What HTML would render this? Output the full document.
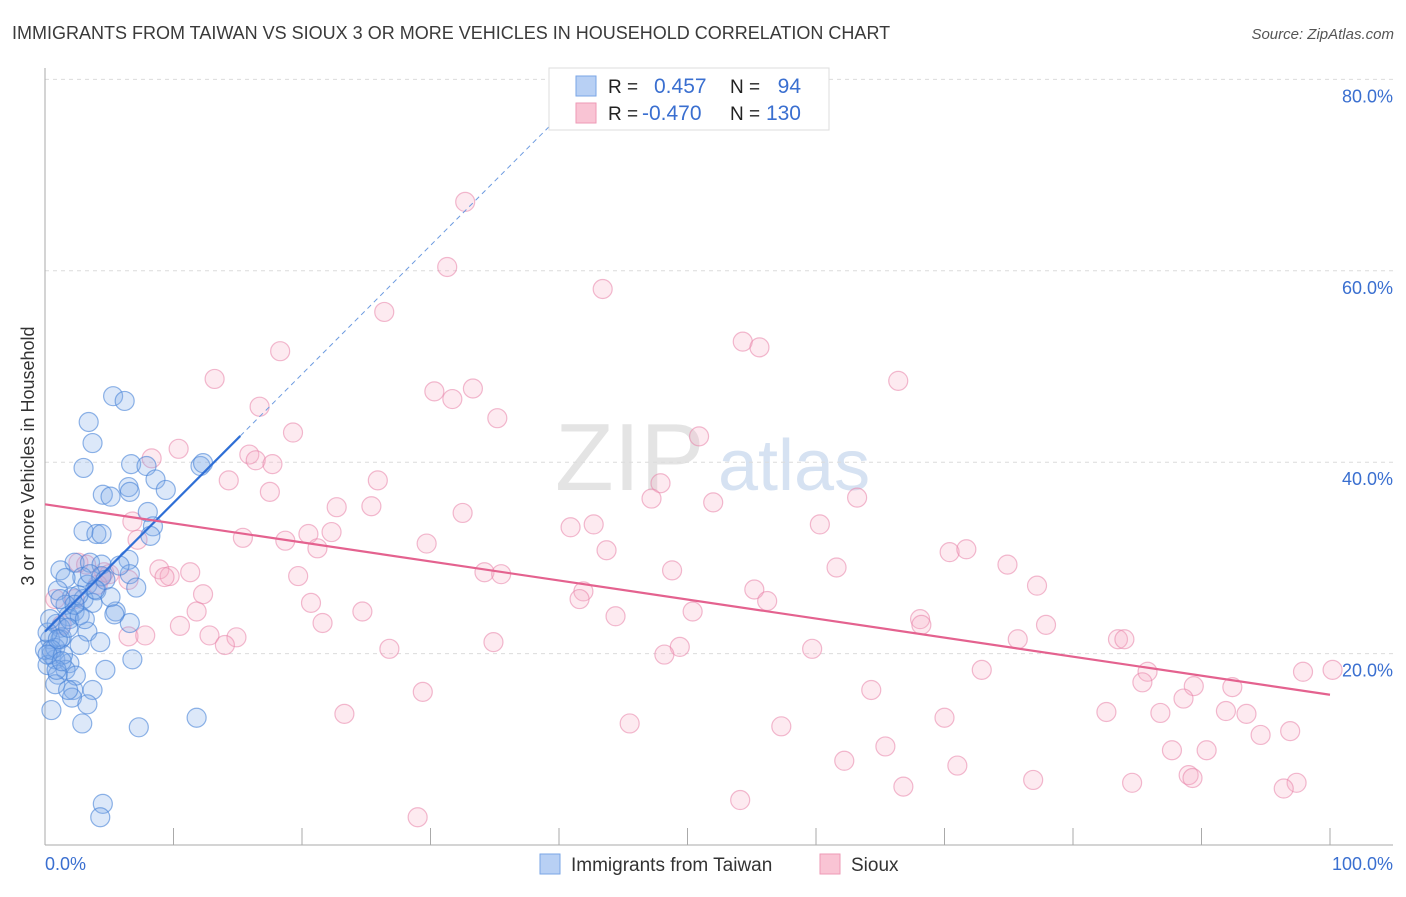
<!DOCTYPE html>
<html><head><meta charset="utf-8"><style>
body{margin:0;background:#fff;font-family:"Liberation Sans",sans-serif;}
svg text{font-family:"Liberation Sans",sans-serif;}
</style></head><body>
<svg width="1406" height="892" viewBox="0 0 1406 892">
<text x="12" y="39" font-size="18" fill="#3a3a3a">IMMIGRANTS FROM TAIWAN VS SIOUX 3 OR MORE VEHICLES IN HOUSEHOLD CORRELATION CHART</text>
<text x="1394" y="39" font-size="15" fill="#555" font-style="italic" text-anchor="end">Source: ZipAtlas.com</text>
<g>
<text x="555" y="490" font-size="96" fill="#e4e4e4" font-family="Liberation Serif">ZIP</text>
<text x="718" y="490" font-size="72" fill="#d6e2f2">atlas</text>
</g>
<g id="grid"></g>
<g id="axes"></g>
<g id="marks"></g>
<g id="trends"></g>
<text transform="translate(34,456) rotate(-90)" font-size="18" fill="#333" text-anchor="middle">3 or more Vehicles in Household</text>
<g>
<rect x="549" y="68" width="280" height="62" fill="#fff" stroke="#ddd"/>
<rect x="576" y="76" width="20" height="20" fill="#b8d0f4" stroke="#7aa6e6"/>
<rect x="576" y="103" width="20" height="20" fill="#f9c4d4" stroke="#ee9ab6"/>
<text x="608" y="93" font-size="19" fill="#222">R = </text>
<text x="654" y="93" font-size="21" fill="#3a6fd0">0.457</text>
<text x="730" y="93" font-size="19" fill="#222">N = </text>
<text x="801" y="93" font-size="21" fill="#3a6fd0" text-anchor="end">94</text>
<text x="608" y="120" font-size="19" fill="#222">R = </text>
<text x="642" y="120" font-size="21" fill="#3a6fd0">-0.470</text>
<text x="730" y="120" font-size="19" fill="#222">N = </text>
<text x="801" y="120" font-size="21" fill="#3a6fd0" text-anchor="end">130</text>
</g>
<g>
<rect x="540" y="854" width="20" height="20" fill="#b8d0f4" stroke="#7aa6e6"/>
<text x="571" y="871" font-size="19" fill="#333">Immigrants from Taiwan</text>
<rect x="820" y="854" width="20" height="20" fill="#f9c4d4" stroke="#ee9ab6"/>
<text x="851" y="871" font-size="19" fill="#333">Sioux</text>
</g>
</svg>
<script>
const yTicks=[20,40,60,80];
const yTickLabels=["20.0%","40.0%","60.0%","80.0%"];
const xTicks=[0,10,20,30,40,50,60,70,80,90,100];
const xEndLabels=["0.0%","100.0%"];
const taiwanX=[5.3,6.2,3.4,3.7,3.0,6.7,7.9,8.6,9.4,4.5,5.1,6.5,6.6,12.1,12.3,8.0,8.4,8.2,3.0,4.0,4.4,2.3,3.5,4.4,6.5,1.2,2.9,4.4,6.6,1.6,3.3,4.0,7.1,2.1,3.0,3.7,2.3,1.8,5.5,0.9,1.2,3.3,0.4,1.2,2.7,4.3,6.6,0.5,0.8,0.2,1.9,1.6,1.0,4.7,6.8,0.8,2.2,3.7,2.1,0.5,3.3,2.9,7.3,11.8,4.5,4.3,5.8,1.0,2.6,1.6,5.1,0.0,0.8,1.3,1.9,0.2,0.4,1.2,2.7,0.5,3.9,3.1,1.4,0.9,2.4,1.8,1.0,1.8,2.3,3.5,5.4,4.7,0.2,1.3];
const taiwanY=[46.9,46.4,44.2,42.0,39.4,39.8,39.6,38.2,37.1,36.6,36.4,37.4,36.9,39.6,39.9,34.8,33.3,32.3,32.8,32.5,32.5,29.5,29.5,29.3,29.8,28.7,28.0,28.1,28.3,27.9,27.2,26.6,26.9,25.9,25.7,25.3,24.4,23.9,24.4,23.1,22.7,22.3,21.5,21.5,20.9,21.2,23.2,19.9,19.4,18.8,19.0,18.3,17.8,18.3,19.4,16.8,16.2,16.2,15.4,14.1,14.7,12.7,12.3,13.3,4.3,2.9,29.2,26.6,26.1,25.1,25.9,20.4,20.6,21.7,23.6,22.2,23.6,25.7,24.0,20.4,26.7,23.6,19.9,18.3,17.7,16.2,21.5,22.7,25.1,28.3,24.1,27.7,19.9,19.2];
const siouxX=[32.7,31.3,43.4,26.4,18.3,54.3,55.6,66.4,13.2,30.3,31.7,33.3,35.2,16.7,50.9,19.3,10.4,8.3,15.9,16.4,17.7,14.3,25.9,47.9,17.5,47.2,63.2,52.0,32.5,22.7,25.4,60.3,6.8,40.9,42.7,15.4,18.7,20.5,29.7,22.3,21.2,7.2,70.4,71.7,43.7,74.9,61.6,8.9,11.3,9.7,9.3,19.7,34.2,35.5,48.8,77.2,6.5,4.4,2.6,3.2,4.6,5.0,41.9,55.2,56.2,41.6,44.4,20.7,24.7,50.4,68.1,12.3,21.6,10.5,11.8,0.8,77.9,68.2,12.8,14.9,14.0,75.7,83.5,84.0,34.9,26.8,59.7,49.4,48.2,6.5,7.8,100.2,97.9,72.9,85.8,85.4,89.4,92.4,88.6,64.3,29.4,82.6,86.8,91.9,93.5,70.0,23.3,45.5,57.3,96.9,94.6,65.4,87.7,90.4,62.2,71.0,89.0,89.3,76.9,84.6,97.4,96.4,66.8,54.1,29.0,1.3,4.1,2.3];
const siouxY=[67.2,60.4,58.1,55.7,51.6,52.6,52.0,48.5,48.7,47.4,46.6,47.7,44.6,45.8,42.7,43.1,41.4,40.4,40.8,40.2,39.8,38.1,38.1,37.8,36.9,36.2,36.3,35.8,34.7,35.3,35.4,33.5,33.8,33.2,33.5,32.1,31.8,32.5,31.5,32.7,31.0,31.9,30.6,30.9,30.8,29.3,29.0,28.8,28.5,28.1,28.0,28.1,28.5,28.3,28.7,27.1,27.7,28.0,29.5,29.3,28.5,28.3,26.5,26.7,25.5,25.7,23.9,25.3,24.4,24.4,23.6,26.2,23.2,22.9,24.4,25.7,23.0,23.0,21.9,21.7,20.9,21.5,21.5,21.5,21.2,20.5,20.5,20.7,19.9,21.8,21.9,18.3,18.1,18.3,18.1,17.0,16.6,16.5,15.3,16.2,16.0,13.9,13.8,14.0,13.7,13.3,13.7,12.7,12.4,11.9,11.5,10.3,9.9,9.9,8.8,8.3,7.3,7.0,6.8,6.5,6.5,5.9,6.1,4.7,2.9,23.0,27.2,25.7];
const taiwanTrend=[22.3,1.345];
const siouxTrend=[35.6,-0.199];

const NS='http://www.w3.org/2000/svg';
const X0=45,X1=1330,Y0=845,PPY=9.57;
function sx(v){return X0+(X1-X0)*v/100;}
function sy(v){return Y0-v*PPY;}
function mk(tag,attrs,parent){const e=document.createElementNS(NS,tag);for(const k in attrs)e.setAttribute(k,attrs[k]);parent.appendChild(e);return e;}
const grid=document.getElementById('grid'),axes=document.getElementById('axes'),marks=document.getElementById('marks'),trends=document.getElementById('trends');
yTicks.forEach((t,i)=>{
 const l=mk('line',{x1:X0,x2:1393,y1:sy(t),y2:sy(t),stroke:'#dcdcdc','stroke-dasharray':'4,4'},grid);
 
 
 const tx=mk('text',{x:1393,y:sy(t)+23,'font-size':18,fill:'#3a6fd0','text-anchor':'end'},axes);
 tx.textContent=yTickLabels[i];
 
 
});
const ya=mk('line',{x1:X0,x2:X0,y1:68,y2:Y0,stroke:'#aaa'},axes);


const xa=mk('line',{x1:X0,x2:1393,y1:Y0,y2:Y0,stroke:'#aaa'},axes);


xTicks.forEach(t=>{
 const k=mk('line',{x1:sx(t),x2:sx(t),y1:Y0-17,y2:Y0,stroke:'#aaa'},axes);
 
 
});
[[0,'start',45],[100,'end',1393]].forEach((d,i)=>{
 const tx=mk('text',{x:d[2],y:870,'font-size':18,fill:'#3a6fd0','text-anchor':d[1]},axes);
 tx.textContent=xEndLabels[i];
 
 
});
function pts(xs,ys,fill,stroke,name){
 xs.forEach((x,i)=>{
  const c=mk('circle',{cx:sx(x),cy:sy(ys[i]),r:9.5,fill:fill,stroke:stroke,'stroke-width':1.2},marks);
  
  
 });
}
pts(siouxX,siouxY,'rgba(246,170,196,0.25)','rgba(232,130,168,0.55)','sioux-point');
pts(taiwanX,taiwanY,'rgba(130,172,235,0.28)','rgba(70,130,215,0.6)','taiwan-point');
function tv(tr,x){return tr[0]+tr[1]*x;}
const bs=mk('line',{x1:sx(0),y1:sy(tv(taiwanTrend,0)),x2:sx(15.2),y2:sy(tv(taiwanTrend,15.2)),stroke:'#2f6fd6','stroke-width':2.2},trends);


const bd=mk('line',{x1:sx(15.2),y1:sy(tv(taiwanTrend,15.2)),x2:sx(40),y2:sy(tv(taiwanTrend,40)),stroke:'#6d9be0','stroke-width':1,'stroke-dasharray':'5,4'},trends);


const ps=mk('line',{x1:sx(0),y1:sy(tv(siouxTrend,0)),x2:sx(100),y2:sy(tv(siouxTrend,100)),stroke:'#e4628f','stroke-width':2.2},trends);


</script>
</body></html>
